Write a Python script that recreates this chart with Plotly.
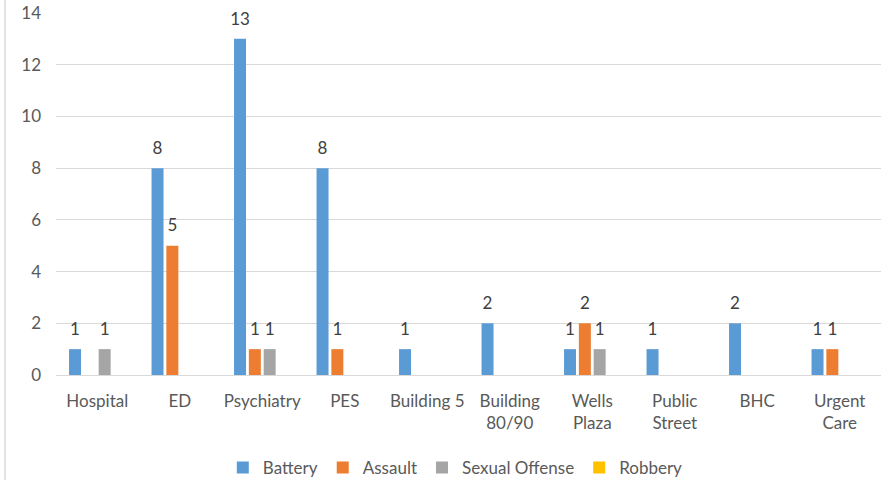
import plotly.graph_objects as go

categories = ["Hospital", "ED", "Psychiatry", "PES", "Building 5", "Building<br>80/90",
              "Wells<br>Plaza", "Public<br>Street", "BHC", "Urgent<br>Care"]
battery = [1, 8, 13, 8, 1, 2, 1, 1, 2, 1]
assault = [0, 5, 1, 1, 0, 0, 2, 0, 0, 1]
sexual_offense = [1, 0, 1, 0, 0, 0, 1, 0, 0, 0]
robbery = [0, 0, 0, 0, 0, 0, 0, 0, 0, 0]
y_ticks = [0, 2, 4, 6, 8, 10, 12, 14]

series = [
    ("Battery", battery, "#5B9BD5"),
    ("Assault", assault, "#ED7D31"),
    ("Sexual Offense", sexual_offense, "#A5A5A5"),
    ("Robbery", robbery, "#FFC000"),
]

FONT = "Lato, 'Open Sans', sans-serif"
LABEL_PAD = 0.28  # transparent spacer so labels sit a little above bars

fig = go.Figure()
for i, (name, vals, color) in enumerate(series):
    fig.add_trace(go.Bar(
        x=categories, y=vals, name=name, marker_color=color,
        marker_line_width=0, offsetgroup=str(i),
    ))
for i, (name, vals, color) in enumerate(series):
    fig.add_trace(go.Bar(
        x=categories, y=[LABEL_PAD] * len(vals), base=vals,
        offsetgroup=str(i), showlegend=False, hoverinfo="skip",
        marker_color="rgba(0,0,0,0)", marker_line_width=0,
        text=[str(v) if v else "" for v in vals],
        textposition="outside", cliponaxis=False, constraintext="none",
        textfont=dict(family=FONT, size=17, color="#404040"),
    ))

fig.update_layout(
    width=891, height=480,
    paper_bgcolor="white", plot_bgcolor="white",
    margin=dict(l=56, r=10, t=13, b=105, autoexpand=False),
    barmode="group", bargap=0.282, bargroupgap=0.19,
    font=dict(family=FONT, size=17, color="#595959"),
    legend=dict(orientation="h", x=0.484, xanchor="center", y=-0.257, yanchor="middle",
                font=dict(family=FONT, size=17, color="#595959"),
                itemwidth=30, tracegroupgap=0),
    showlegend=True,
    yaxis=dict(range=[0, 14], tickvals=y_ticks, showgrid=True, gridcolor="#D9D9D9",
               gridwidth=1.3, zeroline=False, showline=False, ticks="",
               ticklabelstandoff=14, tickfont=dict(size=17, color="#595959")),
    xaxis=dict(showline=True, linecolor="#D9D9D9", linewidth=1.3, ticks="",
               ticklabelstandoff=10, tickfont=dict(size=17, color="#595959")),
    shapes=[dict(type="line", xref="paper", yref="paper",
                 x0=-0.0618, x1=-0.0618, y0=-1, y1=1.1,
                 line=dict(color="#D9D9D9", width=1.5))],
)
fig.write_html("out.html", config={"displayModeBar": False},
               post_script="document.body.style.margin='0';")
